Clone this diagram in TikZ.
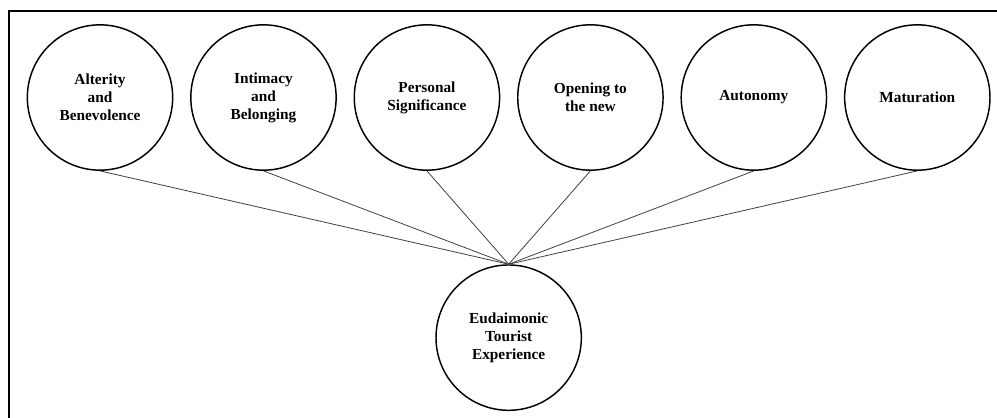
\documentclass[tikz,border=0pt]{standalone}
\usepackage{fontspec}
\setmainfont{Liberation Serif}
\usetikzlibrary{positioning,calc}

\begin{document}
\begin{tikzpicture}
  [
   x=0.75pt,y=-0.75pt,
   node distance=70pt and 12.5pt,
   dim/.style={circle,line width=1.1pt,draw=black,inner sep=0pt,minimum size=109pt,
               align=center,font=\bfseries\fontsize{11.5}{13.5}\selectfont},
   link/.style={-,line width=0.6pt,draw=black!75}
  ]
   \useasboundingbox (0,0) rectangle (997,418);
   \draw[line width=1.5pt] (9,420) -- (9,11) -- (999,11);

   \node[dim] (n1) at (100,97.5)   {Alterity\\and\\Benevolence};
   \node[dim] (n2) [right=of n1]   {Intimacy\\and\\Belonging};
   \node[dim] (n3) [right=of n2]   {Personal\\Significance};
   \node[dim] (n4) [right=of n3]   {Opening to\\the new};
   \node[dim] (n5) [right=of n4]   {Autonomy};
   \node[dim] (n6) [right=of n5]   {Maturation};

   \coordinate (mid) at ($(n3.south)!0.5!(n4.south)$);
   \node[dim] (n7) [below=of mid,anchor=north] {Eudaimonic\\Tourist\\Experience};

   \draw[link] (n1.south) -- (n7.north);
   \draw[link] (n2.south) -- (n7.north);
   \draw[link] (n3.south) -- (n7.north);
   \draw[link] (n4.south) -- (n7.north);
   \draw[link] (n5.south) -- (n7.north);
   \draw[link] (n6.south) -- (n7.north);

\end{tikzpicture}
\end{document}
